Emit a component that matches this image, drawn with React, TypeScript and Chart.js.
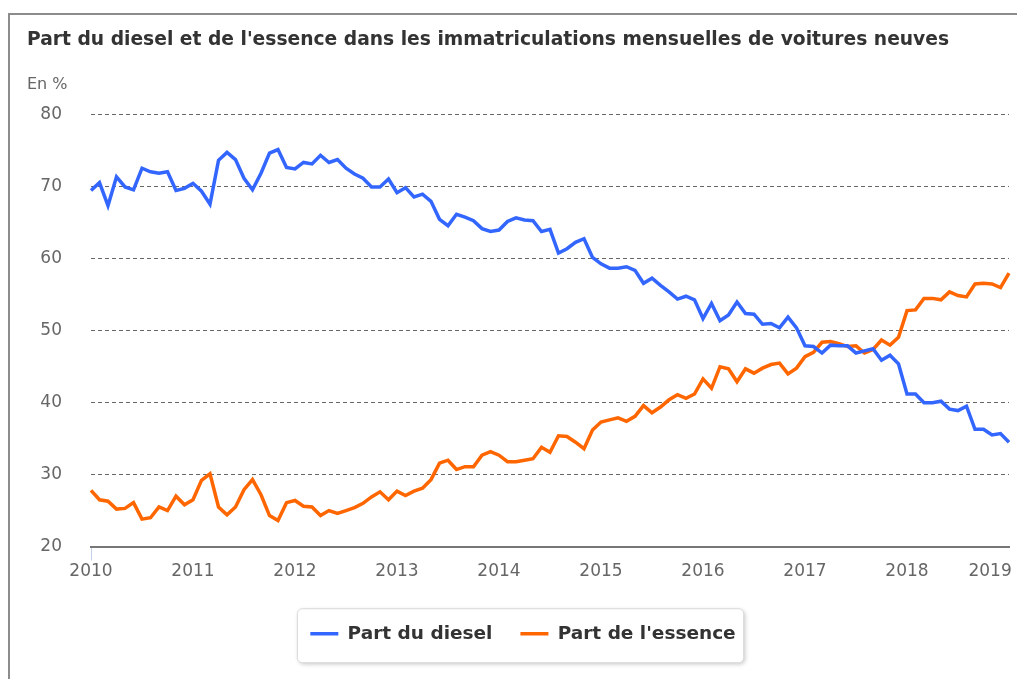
import React, { useEffect, useRef } from 'react';
import { Chart, registerables } from 'chart.js';

Chart.register(...registerables);

const years = ['2010', '2011', '2012', '2013', '2014', '2015', '2016', '2017', '2018', '2019'];
const monthCodes = ['01', '02', '03', '04', '05', '06', '07', '08', '09', '10', '11', '12'];
const categories: string[] = [];
years.forEach((y) => monthCodes.forEach((m) => categories.push(`${y}-${m}`)));
const months = categories.slice(0, 109); // Jan 2010 .. Jan 2019

const dieselShare = [
  69.5, 70.6, 67.4, 71.4, 70.0, 69.6, 72.6, 72.1, 71.9, 72.1, 69.5, 69.8,
  70.5, 69.4, 67.6, 73.7, 74.8, 73.8, 71.2, 69.6, 71.9, 74.7, 75.2, 72.7,
  72.5, 73.4, 73.2, 74.4, 73.4, 73.8, 72.6, 71.8, 71.2, 70.0, 70.0, 71.1,
  69.2, 69.9, 68.6, 69.0, 68.0, 65.5, 64.6, 66.2, 65.8, 65.3, 64.2, 63.8,
  64.0, 65.2, 65.7, 65.4, 65.3, 63.8, 64.1, 60.8, 61.4, 62.3, 62.8, 60.2,
  59.3, 58.7, 58.7, 58.9, 58.4, 56.6, 57.3, 56.3, 55.4, 54.4, 54.8, 54.3,
  51.7, 53.8, 51.4, 52.2, 54.0, 52.4, 52.3, 50.9, 51.0, 50.4, 51.9, 50.4,
  47.9, 47.8, 46.9, 48.0, 47.9, 47.9, 46.9, 47.2, 47.5, 45.9, 46.6, 45.4,
  41.2, 41.2, 40.0, 40.0, 40.2, 39.1, 38.9, 39.5, 36.3, 36.3, 35.5, 35.7,
  34.5,
];

const essenceShare = [
  27.8, 26.5, 26.3, 25.2, 25.3, 26.1, 23.8, 24.0, 25.5, 25.0, 27.0, 25.8,
  26.5, 29.2, 30.1, 25.5, 24.4, 25.5, 27.9, 29.3, 27.2, 24.3, 23.6, 26.1,
  26.4, 25.6, 25.5, 24.3, 25.0, 24.6, 25.0, 25.4, 26.0, 26.9, 27.6, 26.5,
  27.7, 27.1, 27.7, 28.1, 29.3, 31.6, 32.0, 30.7, 31.1, 31.1, 32.7, 33.2,
  32.7, 31.8, 31.8, 32.0, 32.2, 33.8, 33.1, 35.4, 35.3, 34.5, 33.6, 36.2,
  37.3, 37.6, 37.9, 37.4, 38.1, 39.6, 38.6, 39.4, 40.4, 41.1, 40.6, 41.2,
  43.3, 42.0, 45.0, 44.7, 42.9, 44.7, 44.1, 44.8, 45.3, 45.5, 44.0, 44.8,
  46.4, 47.0, 48.4, 48.5, 48.2, 47.8, 47.9, 46.9, 47.4, 48.7, 48.0, 49.1,
  52.8, 52.9, 54.5, 54.5, 54.3, 55.4, 54.9, 54.7, 56.5, 56.6, 56.5, 56.0,
  58.0,
];

const yTicks = [20, 30, 40, 50, 60, 70, 80];

const TITLE = "Part du diesel et de l'essence dans les immatriculations mensuelles de voitures neuves";
const UNIT = 'En %';
const SERIES_NAMES = ['Part du diesel', "Part de l'essence"];
const COLORS = ['#3366ff', '#ff6600'];

const FONT = 'DejaVu Sans';

const framePlugin = {
  id: 'frameAndLegendBox',
  afterLayout(chart: any) {
    const lg = chart.legend;
    if (lg) {
      lg.left += 5;
      lg.right += 5;
    }
  },
  beforeDraw(chart: any) {
    const ctx = chart.ctx;
    ctx.save();
    ctx.strokeStyle = '#8c8c8c';
    ctx.lineWidth = 2;
    ctx.beginPath();
    ctx.moveTo(9, 700);
    ctx.lineTo(9, 14);
    ctx.lineTo(1017, 14);
    ctx.stroke();
    const lg = chart.legend;
    if (lg && lg.legendHitBoxes && lg.legendHitBoxes.length) {
      const hb = lg.legendHitBoxes;
      const first = hb[0];
      const last = hb[hb.length - 1];
      const cy = first.top + first.height / 2;
      const x0 = first.left - 13;
      const x1 = last.left + last.width + 8;
      const y0 = cy - 25;
      const y1 = cy + 29;
      const r = 5;
      ctx.beginPath();
      ctx.moveTo(x0 + r, y0);
      ctx.lineTo(x1 - r, y0);
      ctx.arcTo(x1, y0, x1, y0 + r, r);
      ctx.lineTo(x1, y1 - r);
      ctx.arcTo(x1, y1, x1 - r, y1, r);
      ctx.lineTo(x0 + r, y1);
      ctx.arcTo(x0, y1, x0, y1 - r, r);
      ctx.lineTo(x0, y0 + r);
      ctx.arcTo(x0, y0, x0 + r, y0, r);
      ctx.closePath();
      ctx.shadowColor = 'rgba(0,0,0,0.22)';
      ctx.shadowBlur = 4;
      ctx.shadowOffsetX = 1.5;
      ctx.shadowOffsetY = 1.5;
      ctx.fillStyle = '#ffffff';
      ctx.fill();
      ctx.shadowColor = 'transparent';
      ctx.lineWidth = 1;
      ctx.strokeStyle = '#d9d9d9';
      ctx.stroke();
    }
    ctx.restore();
  },
};

export default function App() {
  const canvasRef = useRef<HTMLCanvasElement | null>(null);

  useEffect(() => {
    const canvas = canvasRef.current;
    if (!canvas) return;
    const chart = new Chart(canvas, {
      type: 'line',
      data: {
        labels: months,
        datasets: [
          {
            label: SERIES_NAMES[0],
            data: dieselShare,
            borderColor: COLORS[0],
            backgroundColor: COLORS[0],
            borderWidth: 3.5,
            pointRadius: 0,
            tension: 0,
            fill: false,
          },
          {
            label: SERIES_NAMES[1],
            data: essenceShare,
            borderColor: COLORS[1],
            backgroundColor: COLORS[1],
            borderWidth: 3.5,
            pointRadius: 0,
            tension: 0,
            fill: false,
          },
        ],
      },
      options: {
        animation: false,
        responsive: false,
        devicePixelRatio: 1,
        layout: { padding: { left: 27, right: 61, top: 0, bottom: 26 } },
        plugins: {
          title: {
            display: true,
            text: TITLE,
            align: 'start',
            color: '#333333',
            font: { family: FONT, size: 18.7, weight: 'bold', lineHeight: 1.155 },
            padding: { top: 29, bottom: 14 },
          },
          subtitle: {
            display: true,
            text: UNIT,
            align: 'start',
            color: '#666666',
            font: { family: FONT, size: 16, weight: 'normal' },
            padding: { top: 10.5, bottom: 20.7 },
          },
          legend: {
            display: true,
            position: 'bottom',
            labels: {
              usePointStyle: true,
              pointStyle: 'line',
              pointStyleWidth: 28,
              padding: 28,
              color: '#333333',
              font: { family: FONT, size: 18.5, weight: 'bold' },
            },
          },
          tooltip: { enabled: false },
        },
        scales: {
          x: {
            type: 'category',
            afterFit: (scale: any) => {
              scale.height = 50;
            },
            grid: {
              drawOnChartArea: false,
              drawTicks: true,
              tickLength: 14,
              tickColor: (ctx: any) => (ctx.index % 12 === 0 ? '#c4d0e8' : 'transparent'),
              color: 'transparent',
            },
            border: { display: true, color: '#777777', width: 2 },
            ticks: {
              autoSkip: false,
              maxRotation: 0,
              minRotation: 0,
              padding: 1,
              color: '#666666',
              font: { family: FONT, size: 17 },
              callback: (_value: any, index: number) => {
                if (index % 12 !== 0) return null;
                const y = years[index / 12];
                return index === months.length - 1 ? y + '       ' : y;
              },
            },
          },
          y: {
            min: yTicks[0],
            max: yTicks[yTicks.length - 1],
            afterFit: (scale: any) => {
              scale.width = 64;
            },
            afterBuildTicks: (scale: any) => {
              scale.ticks = yTicks.map((v) => ({ value: v }));
            },
            grid: {
              drawTicks: false,
              color: '#666666',
              lineWidth: 1,
            },
            border: { display: false, dash: [4, 3] },
            ticks: {
              padding: 29,
              color: '#666666',
              font: { family: FONT, size: 17 },
            },
          },
        },
      },
      plugins: [framePlugin],
    } as any);
    return () => chart.destroy();
  }, []);

  return (
    <div
      style={{
        position: 'fixed',
        left: 0,
        top: 0,
        width: 1017,
        height: 679,
        overflow: 'hidden',
        background: '#ffffff',
      }}
    >
      <canvas ref={canvasRef} width={1070} height={679} style={{ width: 1070, height: 679, display: 'block' }} />
    </div>
  );
}
